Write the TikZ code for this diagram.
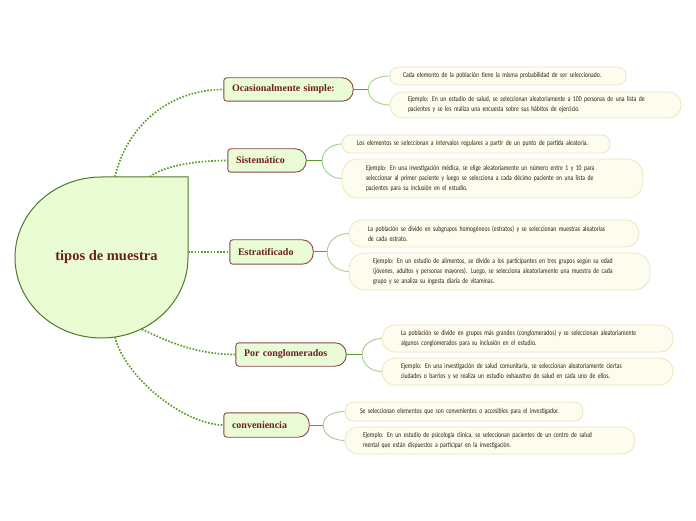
\documentclass[tikz,border=0pt]{standalone}
\usepackage{fontspec}
\setmainfont{Liberation Serif}
\newfontfamily\subfont[FakeStretch=0.77]{Carlito}
\usetikzlibrary{backgrounds}
\definecolor{cfill}{HTML}{E9FCD3}
\definecolor{cline}{HTML}{4E7A26}
\definecolor{tfill}{HTML}{EAFCD6}
\definecolor{tline}{HTML}{8A4646}
\definecolor{ttext}{HTML}{6E1E1E}
\definecolor{sfill}{HTML}{FCFDEE}
\definecolor{sline}{HTML}{EFE5BE}
\definecolor{stext}{HTML}{2E2010}
\definecolor{dotc}{HTML}{5C9E22}
\definecolor{forkc}{HTML}{5F9A30}
\definecolor{branchc}{HTML}{A3D18A}
\tikzset{
 topic/.style={rectangle, inner xsep=8pt, inner ysep=0pt, align=left, font=\bfseries\fontsize{10}{12}\selectfont, text=ttext},
 sub/.style={rectangle, draw=sline, fill=sfill, line width=0.8pt, inner ysep=0pt, align=left, font=\subfont\fontsize{7.4}{10}\selectfont, text=stext},
 dotline/.style={dotc, line width=1.7pt, dash pattern=on 1.6pt off 1.6pt},
 forkline/.style={forkc, line width=1pt},
 branch/.style={branchc, line width=0.9pt},
 topicframe/.style={tline, fill=tfill, line width=0.9pt},
 centerframe/.style={cline, fill=cfill, line width=1pt},
}
\newcommand\topicframe[1]{%
 \begin{pgfonlayer}{background}
 \draw[topicframe] ([xshift=3pt]#1.north west) -- ([xshift=-11pt]#1.north east) arc[start angle=90,end angle=0,radius=11pt] -- ([yshift=11pt]#1.south east) arc[start angle=0,end angle=-90,radius=11pt] -- ([xshift=3pt]#1.south west) arc[start angle=270,end angle=180,radius=3pt] -- ([yshift=-3pt]#1.north west) arc[start angle=180,end angle=90,radius=3pt] -- cycle;
 \end{pgfonlayer}}
\begin{document}
\begin{tikzpicture}[x=1pt,y=1pt]
\useasboundingbox (0,0) rectangle (696,520);
\begin{pgfonlayer}{background}
\fill[white] (0,0) rectangle (696,520);
\draw[centerframe] (101.5,343) -- (188,343) -- (188,262.5) arc[start angle=0,end angle=-270,x radius=86.5pt,y radius=80.5pt] -- cycle;
\end{pgfonlayer}
% central node
\node[font=\bfseries\fontsize{14.5}{16}\selectfont, text=ttext, minimum width=173pt, minimum height=161pt, inner sep=0pt] (c) at (101.5,262.5) {\hspace*{10pt}tipos de muestra};
% topics
\node[topic, minimum width=129pt, minimum height=23pt, text width=113pt] (o) at (288.5,430.5) {Ocasionalmente simple:};
\node[topic, minimum width=78pt, minimum height=23pt, text width=62pt] (s) at (267,359.5) {Sistemático};
\node[topic, minimum width=83pt, minimum height=24pt, text width=67pt] (e) at (271.5,268) {Estratificado};
\node[topic, minimum width=110pt, minimum height=23pt, text width=94pt] (g) at (291,165.5) {Por conglomerados};
\node[topic, minimum width=85pt, minimum height=24pt, text width=69pt] (v) at (266.5,95) {conveniencia};
\topicframe{o}\topicframe{s}\topicframe{e}\topicframe{g}\topicframe{v}
% subtopics
\node[sub, minimum height=18pt, text width=210pt, inner xsep=13pt, rounded corners=8.5pt] (o1) at (508,444) {\mbox{Cada elemento de la población tiene la misma probabilidad de ser seleccionado.}};
\node[sub, minimum height=26pt, text width=255pt, inner xsep=18pt, rounded corners=12.5pt] (o2) at (535.5,415) {\mbox{Ejemplo: En un estudio de salud, se seleccionan aleatoriamente a 100 personas de una lista de}\\\mbox{pacientes y se les realiza una encuesta sobre sus hábitos de ejercicio.}};
\node[sub, minimum height=18pt, text width=238pt, inner xsep=15pt, rounded corners=8.5pt] (s1) at (476,376) {\mbox{Los elementos se seleccionan a intervalos regulares a partir de un punto de partida aleatoria.}};
\node[sub, minimum height=39pt, text width=253pt, inner xsep=24pt, rounded corners=16pt] (s2) at (492.5,341.5) {\mbox{Ejemplo: En una investigación médica, se elige aleatoriamente un número entre 1 y 10 para}\\\mbox{seleccionar al primer paciente y luego se selecciona a cada décimo paciente en una lista de}\\\mbox{pacientes para su inclusión en el estudio.}};
\node[sub, minimum height=27pt, text width=252pt, inner xsep=19pt, rounded corners=13pt] (e1) at (494,286.5) {\mbox{La población se divide en subgrupos homogéneos (estratos) y se seleccionan muestras aleatorias}\\\mbox{de cada estrato.}};
\node[sub, minimum height=37pt, text width=253pt, inner xsep=24pt, rounded corners=16pt] (e2) at (499.5,248.5) {\mbox{Ejemplo: En un estudio de alimentos, se divide a los participantes en tres grupos según su edad}\\\mbox{(jóvenes, adultos y personas mayores). Luego, se selecciona aleatoriamente una muestra de cada}\\\mbox{grupo y se analiza su ingesta diaria de vitaminas.}};
\node[sub, minimum height=27pt, text width=253pt, inner xsep=19pt, rounded corners=13pt] (g1) at (527.5,181.5) {\mbox{La población se divide en grupos más grandes (conglomerados) y se seleccionan aleatoriamente}\\\mbox{algunos conglomerados para su inclusión en el estudio.}};
\node[sub, minimum height=27pt, text width=253pt, inner xsep=19pt, rounded corners=13pt] (g2) at (527.5,148.5) {\mbox{Ejemplo: En una investigación de salud comunitaria, se seleccionan aleatoriamente ciertas}\\\mbox{ciudades o barrios y se realiza un estudio exhaustivo de salud en cada uno de ellos.}};
\node[sub, minimum height=19pt, text width=208pt, inner xsep=15pt, rounded corners=9pt] (v1) at (464,108.5) {\mbox{Se seleccionan elementos que son convenientes o accesibles para el investigador.}};
\node[sub, minimum height=27pt, text width=254pt, inner xsep=18pt, rounded corners=13pt] (v2) at (490,79.5) {\mbox{Ejemplo: En un estudio de psicología clínica, se seleccionan pacientes de un centro de salud}\\\mbox{mental que están dispuestos a participar en la investigación.}};
% central connectors
\draw[dotline] ([xshift=13.5pt]c.north) .. controls +(10,45) and +(-60,0) .. (o.west);
\draw[dotline] ([xshift=48.5pt]c.north) .. controls +(12,10) and +(-35,0) .. (s.west);
\draw[dotline] (e.west -| c.east) -- (e.west);
\draw[dotline] ([xshift=40.5pt,yshift=9pt]c.south) .. controls +(25,-12) and +(-40,0) .. (g.west);
\draw[dotline] ([xshift=13.5pt,yshift=1pt]c.south) .. controls +(10,-40) and +(-40,0) .. (v.west);
% forks
\draw[forkline] (o.east) -- ++(15,0) coordinate (of);
\draw[branch] (of) to[out=90,in=180] (o1.west);
\draw[branch] (of) to[out=-90,in=180] (o2.west);
\draw[forkline] (s.east) -- ++(16,0) coordinate (sf);
\draw[branch] (sf) to[out=90,in=180] (s1.west);
\draw[branch] (sf) to[out=-90,in=180] (s2.west);
\draw[forkline] (e.east) -- ++(14,0) coordinate (ef);
\draw[branch] (ef) to[out=90,in=180] (e1.west);
\draw[branch] (ef) to[out=-90,in=180] (e2.west);
\draw[forkline] (g.east) -- ++(16,0) coordinate (gf);
\draw[branch] (gf) to[out=90,in=180] (g1.west);
\draw[branch] (gf) to[out=-90,in=180] (g2.west);
\draw[forkline] (v.east) -- ++(14,0) coordinate (vf);
\draw[branch] (vf) to[out=90,in=180] (v1.west);
\draw[branch] (vf) to[out=-90,in=180] (v2.west);
\end{tikzpicture}
\end{document}
